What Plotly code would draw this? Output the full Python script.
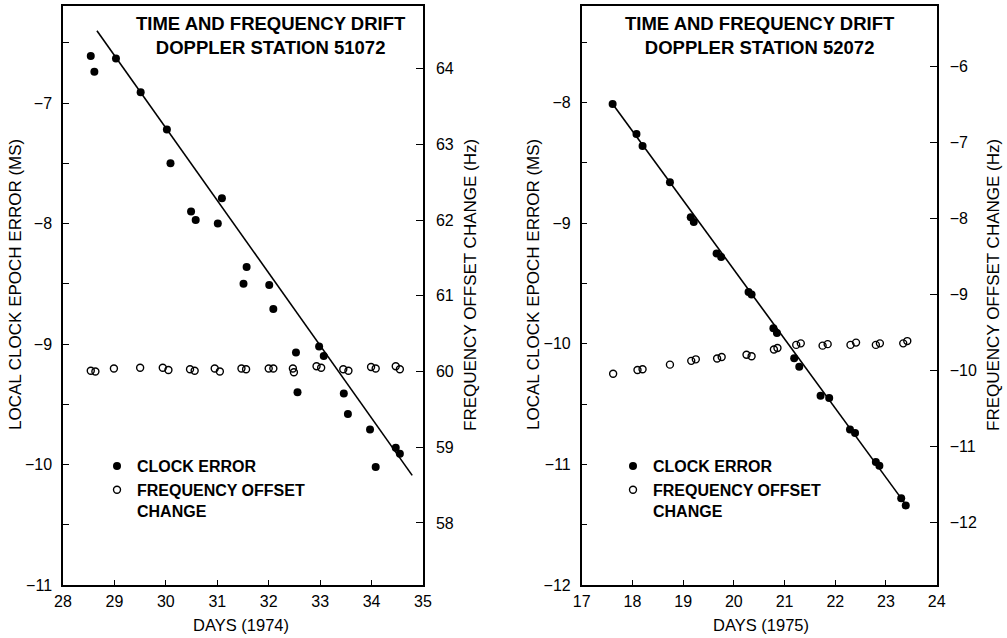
import plotly.graph_objects as go

# ---------------- data ----------------
# Station 51072 (1974)
days_51072_clock = [28.54, 28.61, 29.03, 29.51, 30.02, 30.09, 30.49, 30.58, 31.01, 31.09,
                    31.51, 31.57, 32.01, 32.09, 32.53, 32.56, 32.98, 33.07, 33.46, 33.54,
                    33.97, 34.08, 34.47, 34.55]
err_51072 = [-6.61, -6.74, -6.63, -6.91, -7.22, -7.50, -7.90, -7.97, -8.00, -7.79,
             -8.50, -8.36, -8.51, -8.71, -9.07, -9.40, -9.02, -9.10, -9.41, -9.58,
             -9.71, -10.02, -9.86, -9.91]
days_51072_freq = [28.54, 28.63, 28.99, 29.50, 29.94, 30.05, 30.47, 30.56, 30.95, 31.05,
                   31.47, 31.56, 32.00, 32.09, 32.47, 32.49, 32.93, 33.02, 33.45, 33.55,
                   33.99, 34.08, 34.47, 34.55]
freq_51072 = [60.01, 60.00, 60.04, 60.05, 60.05, 60.02, 60.03, 60.01, 60.04, 60.00,
              60.04, 60.03, 60.04, 60.04, 60.04, 59.99, 60.07, 60.05, 60.03, 60.01,
              60.06, 60.04, 60.07, 60.03]
fit_51072_days = [28.66, 34.79]
fit_51072_err = [-6.40, -10.09]

# Station 52072 (1975)
days_52072_clock = [17.61, 18.08, 18.20, 18.74, 19.15, 19.21, 19.66, 19.75, 20.29, 20.35,
                    20.78, 20.85, 21.19, 21.29, 21.71, 21.88, 22.29, 22.39, 22.80, 22.87,
                    23.30, 23.39]
err_52072 = [-8.01, -8.26, -8.36, -8.66, -8.95, -8.99, -9.25, -9.28, -9.57, -9.59,
             -9.87, -9.91, -10.12, -10.19, -10.43, -10.45, -10.71, -10.74, -10.98, -11.01,
             -11.28, -11.34]
days_52072_freq = [17.62, 18.10, 18.20, 18.74, 19.16, 19.25, 19.67, 19.76, 20.25, 20.35,
                   20.79, 20.86, 21.23, 21.32, 21.75, 21.85, 22.30, 22.41, 22.80, 22.88,
                   23.34, 23.42]
freq_52072 = [-10.04, -9.99, -9.98, -9.92, -9.87, -9.85, -9.84, -9.82, -9.79, -9.81,
              -9.72, -9.70, -9.66, -9.64, -9.67, -9.65, -9.66, -9.63, -9.66, -9.64,
              -9.64, -9.61]
fit_52072_days = [17.61, 23.42]
fit_52072_err = [-8.01, -11.35]

titles = ["TIME AND FREQUENCY DRIFT<br>DOPPLER STATION 51072",
          "TIME AND FREQUENCY DRIFT<br>DOPPLER STATION 52072"]
x_titles = ["DAYS (1974)", "DAYS (1975)"]
y_left_title = "LOCAL CLOCK EPOCH ERROR (MS)"
y_right_title = "FREQUENCY OFFSET CHANGE (Hz)"
legend_clock = "CLOCK ERROR"
legend_freq = "FREQUENCY OFFSET<br>CHANGE"

# ---------------- figure ----------------
FONT = "Liberation Sans, Arial, Helvetica, sans-serif"
W, H = 1007, 638
fig = go.Figure()

def add_panel(xa, ya_l, ya_r, leg, dclk, err, dfr, fr, fd, fe):
    fig.add_trace(go.Scatter(x=fd, y=fe, mode="lines", xaxis=xa, yaxis=ya_l,
                             line=dict(color="black", width=1.6), showlegend=False,
                             hoverinfo="skip"))
    fig.add_trace(go.Scatter(x=dclk, y=err, mode="markers", xaxis=xa, yaxis=ya_l,
                             name=legend_clock, legend=leg,
                             marker=dict(symbol="circle", size=8, color="black")))
    fig.add_trace(go.Scatter(x=dfr, y=fr, mode="markers", xaxis=xa, yaxis=ya_r,
                             name=legend_freq, legend=leg,
                             marker=dict(symbol="circle-open", size=7, color="black",
                                         line=dict(width=1.4, color="black"))))

add_panel("x", "y", "y2", "legend", days_51072_clock, err_51072,
          days_51072_freq, freq_51072, fit_51072_days, fit_51072_err)
add_panel("x2", "y3", "y4", "legend2", days_52072_clock, err_52072,
          days_52072_freq, freq_52072, fit_52072_days, fit_52072_err)

def px_x(p):
    return p / W

def px_y(p):
    return 1 - p / H

ydom = [px_y(585), px_y(6)]
tickfont = dict(family=FONT, size=16, color="black")

def xaxis(dom, rng, anchor):
    return dict(domain=dom, range=rng, anchor=anchor, dtick=1, tick0=0,
                ticks="inside", ticklen=5, tickcolor="black", tickwidth=1.2,
                showline=True, linecolor="black", linewidth=1.5, mirror=True,
                showgrid=False, zeroline=False, tickfont=tickfont,
                ticklabelstandoff=1, automargin=False)

def yleft(rng, anchor):
    return dict(domain=ydom, range=rng, anchor=anchor, dtick=1, tick0=0,
                ticks="inside", ticklen=6, tickcolor="black", tickwidth=1.2,
                minor=dict(dtick=0.5, tick0=0, ticks="inside", ticklen=6,
                           tickcolor="black", tickwidth=1.2, showgrid=False),
                showline=True, linecolor="black", linewidth=1.5,
                showgrid=False, zeroline=False, tickfont=tickfont,
                ticklabelstandoff=6, automargin=False)

def yright(rng, anchor, over):
    return dict(domain=ydom, range=rng, anchor=anchor, overlaying=over, side="right",
                dtick=1, tick0=0, ticks="inside", ticklen=7, tickcolor="black",
                tickwidth=1.2, showline=True, linecolor="black", linewidth=1.5,
                showgrid=False, zeroline=False, tickfont=tickfont,
                ticklabelstandoff=8, automargin=False)

legfont = dict(family=FONT, size=16, color="black", weight="bold")

fig.update_layout(
    width=W, height=H,
    margin=dict(l=0, r=0, t=0, b=0, autoexpand=False),
    paper_bgcolor="white", plot_bgcolor="white",
    font=dict(family=FONT, color="black"),
    xaxis=xaxis([px_x(63), px_x(423)], [28, 35], "y"),
    yaxis=yleft([-11, -6.195], "x"),
    yaxis2=yright([57.18, 64.83], "x", "y"),
    xaxis2=xaxis([px_x(581.7), px_x(936.7)], [17, 24], "y3"),
    yaxis3=yleft([-12, -7.198], "x2"),
    yaxis4=yright([-12.82, -5.20], "x2", "y3"),
    legend=dict(x=px_x(97), y=px_y(449), xanchor="left", yanchor="top",
                bgcolor="rgba(0,0,0,0)", font=legfont, valign="top",
                tracegroupgap=0, itemsizing="trace"),
    legend2=dict(x=px_x(613), y=px_y(449), xanchor="left", yanchor="top",
                 bgcolor="rgba(0,0,0,0)", font=legfont, valign="top",
                 tracegroupgap=0, itemsizing="trace"),
    showlegend=True,
)

ann = []
for t, cx in zip(titles, [271, 760]):
    ann.append(dict(text="<b>" + t.replace("<br>", "</b><br><b>") + "</b>",
                    x=px_x(cx), y=px_y(35), xref="paper", yref="paper",
                    xanchor="center", yanchor="middle", showarrow=False,
                    align="center", font=dict(family=FONT, size=18.5, color="black")))
for t, cx in zip(x_titles, [241, 761]):
    ann.append(dict(text=t, x=px_x(cx), y=px_y(625), xref="paper", yref="paper",
                    xanchor="center", yanchor="middle", showarrow=False,
                    font=dict(family=FONT, size=16.5, color="black")))
for t, cx in [(y_left_title, 15), (y_right_title, 470),
              (y_left_title, 533), (y_right_title, 993)]:
    ann.append(dict(text=t, x=px_x(cx), y=px_y(285), xref="paper", yref="paper",
                    xanchor="center", yanchor="middle", showarrow=False,
                    textangle=-90, font=dict(family=FONT, size=17, color="black")))
fig.update_layout(annotations=ann)

fig.write_html("out.html",
               config={"displayModeBar": False},
               post_script="document.body.style.margin='0px';document.body.style.padding='0px';")
